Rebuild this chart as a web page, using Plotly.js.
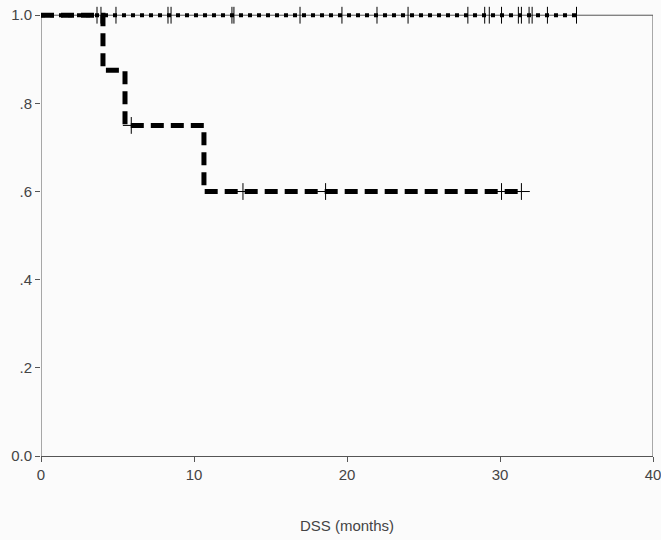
<!DOCTYPE html>
<html>
<head>
<meta charset="utf-8">
<script src="https://cdn.plot.ly/plotly-3.0.1.min.js"></script>
<style>html,body{margin:0;padding:0;background:#fbfbfb;}#chart{width:661px;height:540px;}</style>
</head>
<body>
<div id="chart"></div>
<script>
// Group A (no events): step curve and censored times
const groupA_time = [0, 35.0];
const groupA_surv = [1.0, 1.0];
const groupA_censor = [3.66, 3.92, 4.9, 8.3, 8.5, 12.48, 12.61, 16.93, 19.67, 21.96, 23.99, 27.9, 29.0, 29.3, 30.1, 31.2, 31.4, 31.9, 32.1, 33.1, 35.0];

// Group B: step curve and censored times
const groupB_time = [0, 4.05, 5.49, 10.65, 31.4];
const groupB_surv = [1.0, 0.875, 0.75, 0.6, 0.6];
const groupB_censor = [5.9, 13.2, 18.6, 30.1, 31.4];
const groupB_censor_surv = [0.75, 0.6, 0.6, 0.6, 0.6];

const xTicks = [0, 10, 20, 30, 40];
const yTicks = [0, 0.2, 0.4, 0.6, 0.8, 1.0];
const yTickText = ['0.0', '.2', '.4', '.6', '.8', '1.0'];

const traces = [
  {x: groupA_time, y: groupA_surv, mode: 'lines', line: {shape: 'hv', color: '#000', width: 4, dash: '4px,5px'}, cliponaxis: false, hoverinfo: 'skip'},
  {x: groupB_time, y: groupB_surv, mode: 'lines', line: {shape: 'hv', color: '#000', width: 5, dash: '13px,7px'}, cliponaxis: false, hoverinfo: 'skip'},
  {x: groupA_censor, y: groupA_censor.map(() => 1.0), mode: 'markers', cliponaxis: false,
   marker: {symbol: 'line-ns-open', size: 12, color: '#000', line: {width: 1, color: '#000'}}},
  {x: groupB_censor, y: groupB_censor_surv, mode: 'markers', cliponaxis: false,
   marker: {symbol: 'cross-thin-open', size: 12, color: '#000', line: {width: 1, color: '#000'}}}
];

const frame = {type: 'line', xref: 'x', yref: 'y', line: {color: '#555', width: 1}, layer: 'below'};

const layout = {
  width: 661, height: 540,
  margin: {l: 41, r: 8, t: 2, b: 84},
  paper_bgcolor: '#fbfbfb', plot_bgcolor: '#fbfbfb',
  showlegend: false,
  font: {family: 'Liberation Sans, Arial, sans-serif', size: 15, color: '#444'},
  xaxis: {
    range: [0, 40], tickvals: xTicks, ticktext: xTicks.map(String),
    showgrid: false, zeroline: false, showline: true, mirror: false,
    linecolor: '#555', linewidth: 1, ticks: 'outside', ticklen: 5, tickcolor: '#555',
    ticklabeloverflow: 'allow',
    tickfont: {size: 15, color: '#444'},
    title: {text: 'DSS (months)', font: {size: 15, color: '#444'}, standoff: 38}
  },
  yaxis: {
    range: [0, 1.03], tickvals: yTicks, ticktext: yTickText,
    showgrid: false, zeroline: false, showline: false,
    ticks: 'outside', ticklen: 5, tickcolor: '#555',
    ticklabeloverflow: 'allow',
    tickfont: {size: 15, color: '#444'}
  },
  shapes: [
    Object.assign({}, frame, {x0: 0, x1: 0, y0: 0, y1: 1}),
    Object.assign({}, frame, {x0: 0, x1: 40, y0: 1, y1: 1}),
    Object.assign({}, frame, {x0: 40, x1: 40, y0: 0, y1: 1})
  ]
};

Plotly.newPlot('chart', traces, layout, {displayModeBar: false, staticPlot: true});
</script>
</body>
</html>
